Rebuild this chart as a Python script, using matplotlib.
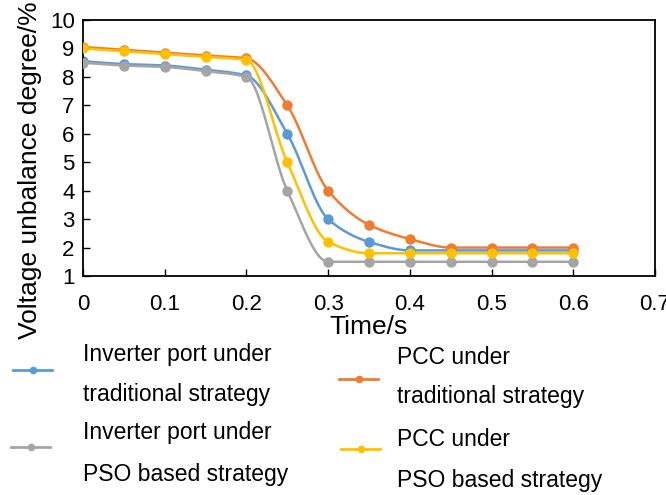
import numpy as np
import matplotlib.pyplot as plt
from matplotlib.lines import Line2D

plt.rcParams['font.family'] = ['Liberation Sans', 'DejaVu Sans']

t = [0, 0.05, 0.1, 0.15, 0.2, 0.25, 0.3, 0.35, 0.4, 0.45, 0.5, 0.55, 0.6]
inv_trad = [8.55, 8.45, 8.4, 8.25, 8.05, 6.0, 3.0, 2.2, 1.9, 1.9, 1.9, 1.9, 1.9]
pcc_trad = [9.05, 8.95, 8.85, 8.75, 8.65, 7.0, 4.0, 2.8, 2.3, 2.0, 2.0, 2.0, 2.0]
inv_pso = [8.5, 8.4, 8.35, 8.2, 8.0, 4.0, 1.5, 1.5, 1.5, 1.5, 1.5, 1.5, 1.5]
pcc_pso = [9.0, 8.9, 8.8, 8.7, 8.6, 5.0, 2.2, 1.8, 1.8, 1.8, 1.8, 1.8, 1.8]

labels = ['Inverter port under\ntraditional strategy',
          'PCC under\ntraditional strategy',
          'Inverter port under\nPSO based strategy',
          'PCC under\nPSO based strategy']
colors = ['#5B9BD5', '#ED7D31', '#A5A5A5', '#FFC000']


def smooth(x, y, n=40):
    # monotone cubic hermite (fritsch-carlson) for the smoothed lines
    x = np.asarray(x, float); y = np.asarray(y, float)
    h = np.diff(x); d = np.diff(y) / h
    m = np.zeros_like(y)
    m[0], m[-1] = d[0], d[-1]
    for i in range(1, len(y) - 1):
        if d[i-1] * d[i] > 0:
            w1 = 2*h[i] + h[i-1]; w2 = h[i] + 2*h[i-1]
            m[i] = (w1 + w2) / (w1/d[i-1] + w2/d[i])
    xs, ys = [], []
    s = np.linspace(0, 1, n)
    for i in range(len(h)):
        h00 = 2*s**3 - 3*s**2 + 1; h10 = s**3 - 2*s**2 + s
        h01 = -2*s**3 + 3*s**2; h11 = s**3 - s**2
        xs.append(x[i] + s*h[i])
        ys.append(h00*y[i] + h10*h[i]*m[i] + h01*y[i+1] + h11*h[i]*m[i+1])
    return np.concatenate(xs), np.concatenate(ys)


fig = plt.figure(figsize=(6.66, 4.95), dpi=100)
ax = fig.add_axes([0.1246, 0.4424, 0.8589, 0.5172])

series = [inv_trad, pcc_trad, inv_pso, pcc_pso]
order = [2, 0, 3, 1]
for k in order:
    xs, ys = smooth(t, series[k])
    ax.plot(xs, ys, color=colors[k], lw=1.8, zorder=2 + k)
    ax.plot(t, series[k], 'o', color=colors[k], ms=7.5, mec='none', zorder=2 + k)

ax.set_xlim(0, 0.7)
ax.set_ylim(1, 10)
ax.set_xticks(np.arange(0, 0.71, 0.1))
ax.set_xticklabels(['0', '0.1', '0.2', '0.3', '0.4', '0.5', '0.6', '0.7'])
ax.set_yticks(range(1, 11))
ax.tick_params(direction='in', length=5, width=1, labelsize=16)
ax.tick_params(axis='x', pad=13)
ax.tick_params(axis='y', pad=6)
for sp in ax.spines.values():
    sp.set_linewidth(1.3)
ax.set_xlabel('Time/s', fontsize=19, labelpad=0)
ax.set_ylabel('Voltage unbalance degree/%', fontsize=19)
ax.yaxis.set_label_coords(-0.072, 0.414)

# legend, drawn by hand in two columns
W, H = 666, 495
leg = [(13, 52, 83, 370, 355, 395, 0), (339, 378, 397, 379, 357, 397, 1),
       (11, 50, 83, 447, 433, 475, 2), (341, 380, 397, 449, 440, 480, 3)]
for x0, x1, xt, y, ya, yb, k in leg:
    fig.add_artist(Line2D([x0/W, (x0+x1)/2/W, x1/W], [1 - y/H]*3, color=colors[k], lw=2,
                          marker='o', markevery=[1], ms=5.5, mec='none'))
    l1, l2 = labels[k].split('\n')
    fig.text(xt/W, 1 - ya/H, l1, fontsize=16.5, va='center')
    fig.text(xt/W, 1 - yb/H, l2, fontsize=16.5, va='center')

fig.savefig('out.png', dpi=100)
